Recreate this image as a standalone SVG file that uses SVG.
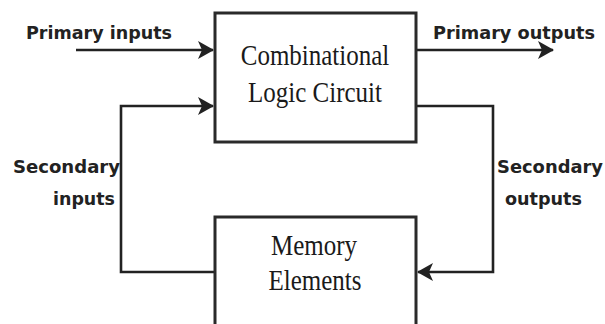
<svg xmlns="http://www.w3.org/2000/svg" width="605" height="324" viewBox="0 0 605 324">
  <style>
    .box { fill: #ffffff; stroke: #2a2a2a; stroke-width: 3; }
    .wire { fill: none; stroke: #222222; stroke-width: 2.6; }
    .lbl { font-family: "DejaVu Sans", "Liberation Sans", sans-serif; font-weight: bold; font-size: 17px; fill: #222222; }
    .big { font-family: "Liberation Serif", "DejaVu Serif", serif; font-size: 25px; fill: #1a1a1a; text-anchor: middle; }
  </style>
  <defs>
    <marker id="arr" viewBox="0 0 16 18" refX="15" refY="9" markerWidth="16" markerHeight="18" markerUnits="userSpaceOnUse" orient="auto">
      <path d="M0,0 L16,9 L0,18 L4,9 Z" fill="#222222"/>
    </marker>
  </defs>
  <rect width="605" height="324" fill="#ffffff"/>

  <g id="connectors">
    <path id="primary-in" class="wire" d="M76,50 H213" marker-end="url(#arr)"/>
    <path id="primary-out" class="wire" d="M416,50 H553" marker-end="url(#arr)"/>
    <path id="secondary-out" class="wire" d="M416,106 H493 V272 H418" marker-end="url(#arr)"/>
    <path id="secondary-in" class="wire" d="M215,272 H121 V106 H213" marker-end="url(#arr)"/>
  </g>

  <g id="combinational">
    <rect class="box" x="215" y="13" width="201" height="129"/>
    <text class="big" transform="translate(315,65) scale(1,1.2)">Combinational</text>
    <text class="big" transform="translate(315,102) scale(1,1.2)">Logic Circuit</text>
  </g>

  <g id="memory">
    <rect class="box" x="215" y="217" width="201" height="120"/>
    <text class="big" transform="translate(314,255) scale(1,1.2)">Memory</text>
    <text class="big" transform="translate(315,290) scale(1,1.2)">Elements</text>
  </g>

  <g id="labels">
    <text class="lbl" x="26" y="39" textLength="146" lengthAdjust="spacingAndGlyphs">Primary inputs</text>
    <text class="lbl" x="433" y="39" textLength="162" lengthAdjust="spacingAndGlyphs">Primary outputs</text>
    <text class="lbl" x="13" y="173" textLength="107" lengthAdjust="spacingAndGlyphs">Secondary</text>
    <text class="lbl" x="53" y="205" textLength="62" lengthAdjust="spacingAndGlyphs">inputs</text>
    <text class="lbl" x="497" y="173" textLength="106" lengthAdjust="spacingAndGlyphs">Secondary</text>
    <text class="lbl" x="505" y="205" textLength="77" lengthAdjust="spacingAndGlyphs">outputs</text>
  </g>
</svg>
